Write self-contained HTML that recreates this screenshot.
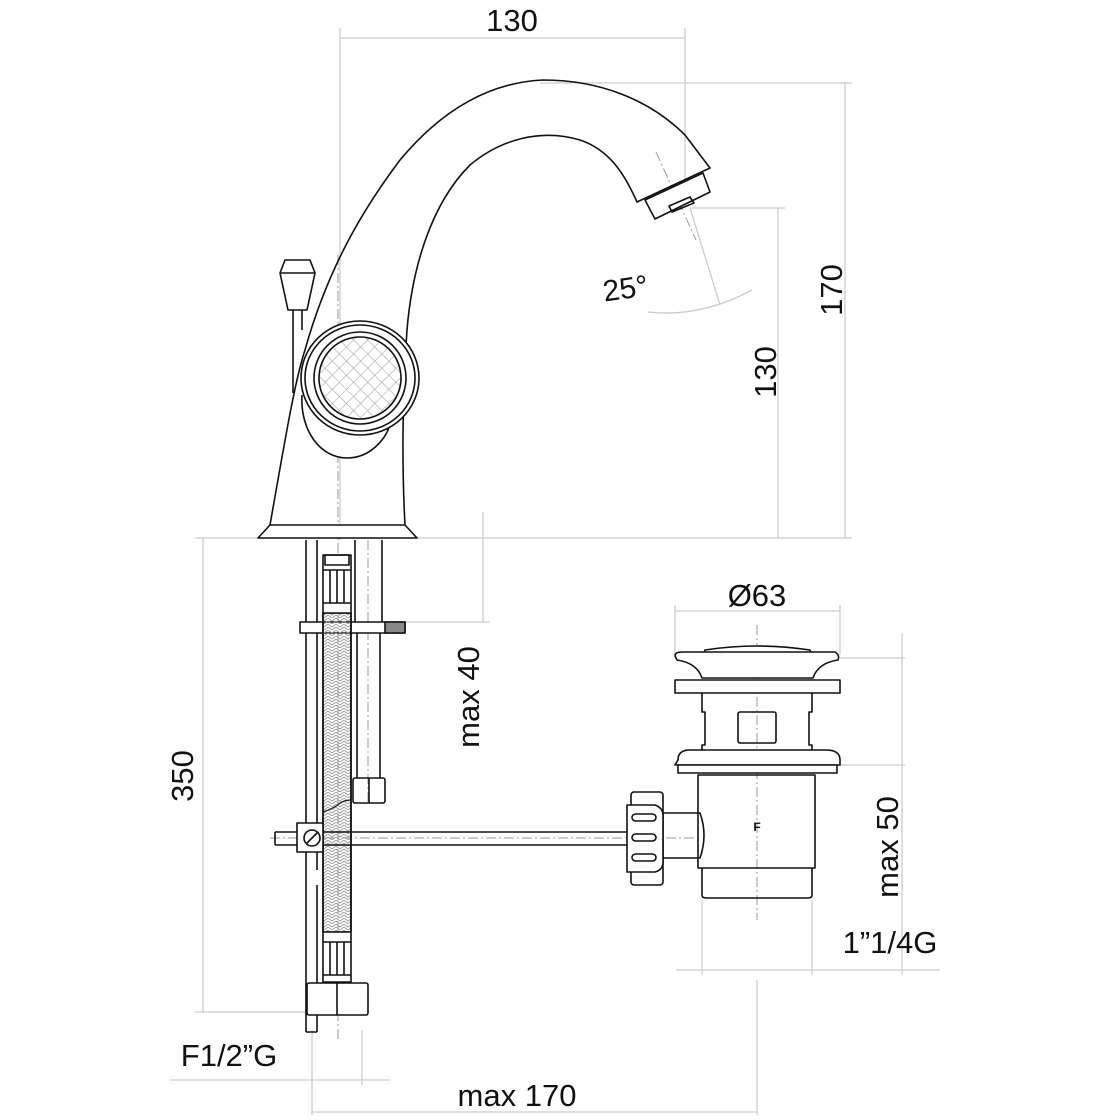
<!DOCTYPE html>
<html><head><meta charset="utf-8"><style>
html,body{margin:0;padding:0;background:#fff}
svg{display:block}
text{font-family:"Liberation Sans",Arial,sans-serif;fill:#111}
</style></head><body>
<svg width="1120" height="1120" viewBox="0 0 1120 1120" xmlns="http://www.w3.org/2000/svg">
<defs>
<pattern id="xh" width="10" height="10" patternUnits="userSpaceOnUse" patternTransform="rotate(45)">
<path d="M0 0H10M0 0V10" stroke="#aaa" stroke-width="1.2"/>
</pattern>
<pattern id="hb" width="8" height="6" patternUnits="userSpaceOnUse">
<path d="M0 0L4 3L8 0M0 3L4 6L8 3" stroke="#999" stroke-width="0.9" fill="none"/>
</pattern>
</defs>
<g stroke="#ccc" stroke-width="1.3" fill="none">
<!-- top dims -->
<line x1="340" y1="28" x2="340" y2="540"/>
<line x1="685" y1="28" x2="685" y2="200"/>
<line x1="340" y1="38" x2="685" y2="38"/>
<line x1="540" y1="83" x2="852" y2="83"/>
<line x1="845" y1="83" x2="845" y2="538"/>
<line x1="690" y1="208" x2="785" y2="208"/>
<line x1="778" y1="208" x2="778" y2="538"/>
<line x1="195" y1="538" x2="852" y2="538"/>
<path d="M648 312 Q700 318 752 290"/>
<line x1="690" y1="208" x2="720" y2="305"/>
<!-- left -->
<line x1="203" y1="538" x2="203" y2="1012"/>
<line x1="195" y1="1012" x2="318" y2="1012"/>
<line x1="483" y1="512" x2="483" y2="622"/>
<line x1="405" y1="622" x2="490" y2="622"/>
<line x1="170" y1="1080" x2="390" y2="1080"/>
<line x1="312" y1="1030" x2="312" y2="1115"/>
<line x1="362" y1="1030" x2="362" y2="1085"/>
<line x1="312" y1="1112" x2="757" y2="1112"/>
<line x1="757" y1="980" x2="757" y2="1115"/>
<!-- drain dims -->
<line x1="675" y1="605" x2="675" y2="655"/>
<line x1="840" y1="605" x2="840" y2="655"/>
<line x1="675" y1="611" x2="840" y2="611"/>
<line x1="840" y1="658" x2="905" y2="658"/>
<line x1="840" y1="765" x2="905" y2="765"/>
<line x1="902" y1="633" x2="902" y2="975"/>
<line x1="702" y1="900" x2="702" y2="975"/>
<line x1="812" y1="900" x2="812" y2="975"/>
<line x1="676" y1="970" x2="940" y2="970"/>
</g>
<!-- centerlines -->
<g stroke="#999" stroke-width="1" stroke-dasharray="10 3 2 3" fill="none">
<line x1="338" y1="255" x2="338" y2="1040"/>
<line x1="656" y1="152" x2="696" y2="240"/>
<line x1="757" y1="625" x2="757" y2="920"/>
<line x1="270" y1="838" x2="700" y2="838"/>
<line x1="368" y1="540" x2="368" y2="805"/>
</g>
<g stroke="#111" stroke-width="1.6" fill="none" stroke-linejoin="round">
<!-- spout body -->
<path d="M270 525 C285 440 295 380 305 350 C330 260 370 200 400 160 C450 100 500 82 543 80 C600 80 650 100 685 135 L710 168 L637 202 C625 175 610 150 580 140 C540 128 500 140 470 165 C430 205 412 270 407 330 C402 400 402 470 405 525"/>
<path d="M270 525 L258 538 L417 538 L405 525 Z" fill="#fff"/>
<path d="M645 200 L703 173 L710 192 L655 219 Z" fill="#fff"/>
<path d="M669 206 L690 197 L694 203 L672 212 Z"/>
<!-- knob -->
<path d="M302 395 C300 430 320 458 347 458 C370 458 385 440 390 425" fill="#fff"/>
<ellipse cx="360" cy="378" rx="59" ry="57" fill="#fff"/>
<ellipse cx="360" cy="378" rx="55" ry="53"/>
<circle cx="360" cy="378" r="46"/>
<circle cx="360" cy="378" r="41" fill="url(#xh)"/>
<!-- lever -->
<path d="M293 310 L293 393 M302 310 L302 330"/>
<path d="M280 273 L285 260 L310 260 L315 273 L307 310 L288 310 Z" fill="#fff"/>
<line x1="280" y1="273" x2="315" y2="273"/>
<!-- lower rod -->
<path d="M306 540 V1032 M317 540 V870 M317 885 V1032 M306 1032 H317"/>
<!-- tube -->
<path d="M355 540 V622 M382 540 V622 M357 633 V778 M380 633 V778"/>
<rect x="353" y="778" width="32" height="25" rx="2"/>
<line x1="369" y1="778" x2="369" y2="803"/>
<!-- clamp bar -->
<rect x="300" y="622" width="105" height="11" fill="#fff"/>
<rect x="385" y="622" width="20" height="11" fill="#888"/>
<!-- hose -->
<rect x="323" y="613" width="28" height="319" fill="url(#hb)"/>
<path d="M323 613 V932 M351 613 V932"/>
<path d="M323 812 Q335 808 340 803 Q345 800 351 800" stroke-width="1.2"/>
<path d="M323 555 H351 V613 H323 Z" fill="#fff"/>
<path d="M325 555 H349 V565 H325 Z M323 570 H351 M330 570 V603 M337 570 V603 M344 570 V603 M323 603 H351"/>
<path d="M323 932 H351 V982 H323 Z" fill="#fff"/>
<path d="M323 942 H351 M330 942 V975 M337 942 V975 M344 942 V975 M323 975 H351"/>
<rect x="307" y="983" width="61" height="32" rx="2" fill="#fff"/>
<line x1="337" y1="983" x2="337" y2="1015"/>
<!-- pull rod -->
<path d="M275 832 H297 M275 845 H297 M275 832 V845 M323 832 H627 M323 845 H627"/>
<rect x="297" y="823" width="26" height="29" fill="#fff"/>
<circle cx="312" cy="838" r="8"/>
<line x1="306" y1="844" x2="318" y2="832"/>
<!-- drain -->
<path d="M705 650 Q757 642 810 650 L812 655 L703 655 Z" fill="#fff"/>
<path d="M675 656 Q675 652 682 652 L835 652 Q840 655 838 660 Q818 663 813 678 L702 678 Q697 663 677 660 Z" fill="#fff"/>
<rect x="675" y="680" width="165" height="13" fill="#fff"/>
<path d="M702 693 V712 H705 V745 H702 V750 M812 693 V712 H809 V745 H812 V750"/>
<rect x="738" y="712" width="38" height="31" rx="2"/>
<path d="M678 760 Q678 750 690 750 L826 750 Q840 750 840 760 L840 765 L675 765 Z" fill="#fff"/>
<rect x="678" y="765" width="159" height="8" fill="#fff"/>
<path d="M698 775 V868 H815 V775 Z"/>
<path d="M702 868 V895 Q702 898 706 898 H808 Q812 898 812 895 V868"/>
<path d="M663 813 H700 Q708 835 700 858 H663"/>
<rect x="631" y="792" width="32" height="93" rx="3" fill="#fff"/>
<path d="M627 805 H655 Q663 808 663 815 V862 Q663 870 655 872 H627 Z" fill="#fff"/>
<rect x="632" y="814" width="24" height="7" rx="3.5"/>
<rect x="632" y="834" width="24" height="7" rx="3.5"/>
<rect x="632" y="854" width="24" height="7" rx="3.5"/>
</g>
<text x="757" y="831" font-size="12" font-weight="bold" text-anchor="middle">F</text>
<!-- labels -->
<text x="512" y="31" font-size="31" text-anchor="middle">130</text>
<text x="603" y="298" font-size="30" transform="rotate(-8 630 290)">25°</text>
<text x="0" y="0" font-size="31" text-anchor="middle" transform="translate(842 290) rotate(-90)">170</text>
<text x="0" y="0" font-size="31" text-anchor="middle" transform="translate(776 372) rotate(-90)">130</text>
<text x="0" y="0" font-size="31" text-anchor="middle" transform="translate(193 776) rotate(-90)">350</text>
<text x="0" y="0" font-size="31" text-anchor="middle" transform="translate(479 697) rotate(-90)">max 40</text>
<text x="0" y="0" font-size="31" text-anchor="middle" transform="translate(898 847) rotate(-90)">max 50</text>
<text x="757" y="606" font-size="31" text-anchor="middle">Ø63</text>
<text x="890" y="953" font-size="31" text-anchor="middle">1”1/4G</text>
<text x="229" y="1066" font-size="31" text-anchor="middle">F1/2”G</text>
<text x="517" y="1106" font-size="31" text-anchor="middle">max 170</text>
</svg>
</body></html>
